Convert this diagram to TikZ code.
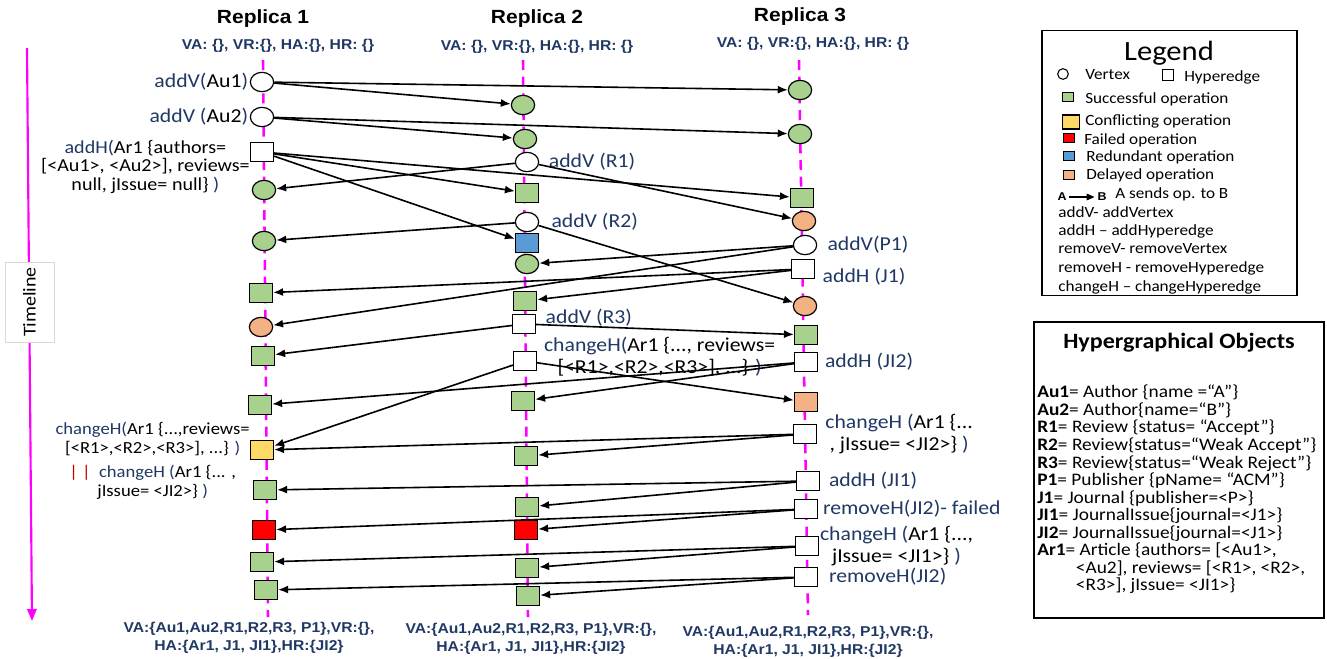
\documentclass[tikz,border=0pt]{standalone}
\usepackage{fontspec}
\setmainfont{Carlito}[FakeStretch=1.1]
\newfontfamily\headfont{Liberation Sans}[FakeStretch=1.1]
\usepackage{tikz}
\usetikzlibrary{shapes, arrows.meta, positioning}
\definecolor{okgreen}{HTML}{A9D18E}
\definecolor{conflictyellow}{HTML}{FFD966}
\definecolor{failred}{HTML}{FF0000}
\definecolor{redundantblue}{HTML}{5B9BD5}
\definecolor{delayorange}{HTML}{F4B183}
\definecolor{opblue}{HTML}{203864}
\definecolor{tlmagenta}{HTML}{FF00FF}
\definecolor{barred}{HTML}{C00000}
\tikzstyle{vtx} = [draw, fill=white, ellipse, line width=0.9pt, minimum width=17.5pt, minimum height=14.5pt, inner sep=0pt]
\tikzstyle{hedge} = [draw, fill=white, rectangle, line width=0.9pt, minimum width=17.25pt, minimum height=14.5pt, inner sep=0pt]
\tikzstyle{optext} = [text=opblue, inner sep=0pt, font=\fontsize{14.8}{16.5}\selectfont]
\tikzstyle{replicastate} = [text=opblue, inner sep=0pt, align=center, font=\headfont\bfseries\fontsize{10.7}{13.5}\selectfont]
\tikzstyle{replicatitle} = [inner sep=0pt, font=\headfont\bfseries\fontsize{14.3}{16}\selectfont]
\tikzstyle{replica} = [draw=tlmagenta, line width=1.9pt, dash pattern=on 7.5pt off 5pt]
\tikzstyle{sendop} = [->, line width=1.2pt]
\tikzstyle{legtext} = [anchor=west, inner sep=0pt, font=\fontsize{11.7}{13}\selectfont]
\tikzstyle{legkey} = [draw, line width=0.9pt, minimum width=8.5pt, minimum height=6.5pt, inner sep=0pt]
\newcommand{\objtext}[1]{\textcolor{black}{#1}}

\begin{document}
\begin{tikzpicture}[x=0.75pt, y=-0.75pt, >={Latex[length=7.5pt, width=6pt]}]
    \useasboundingbox (0,0) rectangle (1327,658);

    % timeline
    \coordinate (tltop) at (27,48);
    \coordinate (tlend) at (32,621);
    \draw [->, draw=tlmagenta, line width=1.6pt, >={Triangle[length=9pt, width=7pt]}] (tltop) -- (tlend);
    \node [draw=gray!30, fill=white, rotate=90, minimum width=60pt, minimum height=36.75pt, font=\fontsize{13.6}{15}\selectfont] (tlbox) at (29.5,302) {Timeline};

    % replica lines
    \coordinate (r1top) at (263,60);
    \coordinate (r1bot) at (268,617);
    \coordinate (r2top) at (523,60);
    \coordinate (r2bot) at (528,617);
    \coordinate (r3top) at (799,60);
    \coordinate (r3bot) at (808,615);
    \draw [replica] (r1top) -- (r1bot);
    \draw [replica] (r2top) -- (r2bot);
    \draw [replica] (r3top) -- (r3bot);

    \node [replicatitle] (rep1) at (263,19) {Replica 1};
    \node [replicatitle] (rep2) at (537,19) {Replica 2};
    \node [replicatitle] (rep3) at (800,17) {Replica 3};
    \node [replicastate] (start1) at (278,46) {VA: \{\}, VR:\{\}, HA:\{\}, HR: \{\}};
    \node [replicastate] (start2) at (537,47) {VA: \{\}, VR:\{\}, HA:\{\}, HR: \{\}};
    \node [replicastate] (start3) at (813,44) {VA: \{\}, VR:\{\}, HA:\{\}, HR: \{\}};
    \node [replicastate] (end1) at (249,638) {VA:\{Au1,Au2,R1,R2,R3, P1\},VR:\{\},\\HA:\{Ar1, J1, JI1\},HR:\{JI2\}};
    \node [replicastate] (end2) at (531,639) {VA:\{Au1,Au2,R1,R2,R3, P1\},VR:\{\},\\HA:\{Ar1, J1, JI1\},HR:\{JI2\}};
    \node [replicastate] (end3) at (808,642) {VA:\{Au1,Au2,R1,R2,R3, P1\},VR:\{\},\\HA:\{Ar1, J1, JI1\},HR:\{JI2\}};

    % replica 1
    \node [vtx] (a1) at (262,82) {};
    \node [vtx] (a2) at (262,117) {};
    \node [hedge] (a3) at (262,152) {};
    \node [vtx, fill=okgreen] (a4) at (264,190) {};
    \node [vtx, fill=okgreen] (a5) at (264,241) {};
    \node [hedge, fill=okgreen] (a6) at (261,293) {};
    \node [vtx, fill=delayorange] (a7) at (261,327) {};
    \node [hedge, fill=okgreen] (a8) at (263,356) {};
    \node [hedge, fill=okgreen] (a9) at (260,405) {};
    \node [hedge, fill=conflictyellow] (a10) at (262,450) {};
    \node [hedge, fill=okgreen] (a11) at (265,490) {};
    \node [hedge, fill=failred] (a12) at (264,530) {};
    \node [hedge, fill=okgreen] (a13) at (262,562) {};
    \node [hedge, fill=okgreen] (a14) at (266,590) {};

    % replica 2
    \node [vtx, fill=okgreen] (b1) at (523,105) {};
    \node [vtx, fill=okgreen] (b2) at (525,139) {};
    \node [vtx] (b3) at (527,162) {};
    \node [hedge, fill=okgreen] (b4) at (527,193) {};
    \node [vtx] (b5) at (527,222) {};
    \node [hedge, fill=redundantblue] (b6) at (527,243) {};
    \node [vtx, fill=okgreen] (b7) at (527,264) {};
    \node [hedge, fill=okgreen] (b8) at (525,301) {};
    \node [hedge] (b9) at (524,324) {};
    \node [hedge] (b10) at (525,361) {};
    \node [hedge, fill=okgreen] (b11) at (523,401) {};
    \node [hedge, fill=okgreen] (b12) at (526,456) {};
    \node [hedge, fill=okgreen] (b13) at (527,507) {};
    \node [hedge, fill=failred] (b14) at (526,530) {};
    \node [hedge, fill=okgreen] (b15) at (527,568) {};
    \node [hedge, fill=okgreen] (b16) at (528,596) {};

    % replica 3
    \node [vtx, fill=okgreen] (c1) at (800,90) {};
    \node [vtx, fill=okgreen] (c2) at (800,134) {};
    \node [hedge, fill=okgreen] (c3) at (802,198) {};
    \node [vtx, fill=delayorange] (c4) at (804,221) {};
    \node [vtx] (c5) at (805,245) {};
    \node [hedge] (c6) at (803,269) {};
    \node [vtx, fill=delayorange] (c7) at (805,306) {};
    \node [hedge, fill=okgreen] (c8) at (806,335) {};
    \node [hedge] (c9) at (806,362) {};
    \node [hedge, fill=delayorange] (c10) at (806,402) {};
    \node [hedge] (c11) at (805,434) {};
    \node [hedge] (c12) at (808,481) {};
    \node [hedge] (c13) at (806,509) {};
    \node [hedge] (c14) at (807,546) {};
    \node [hedge] (c15) at (806,577) {};

    % operation labels
    \node [optext, left=1pt of a1] (a1lbl) {addV(\objtext{Au1})};
    \node [optext, left=1pt of a2] (a2lbl) {addV (\objtext{Au2})};
    \node [optext, align=center, left=0pt of a3, yshift=-11pt, font=\fontsize{13.7}{13.9}\selectfont] (a3lbl) {addH(\objtext{Ar1 \{authors=}\\\objtext{[<Au1>, <Au2>], reviews=}\\\objtext{null, jIssue= null\}} )};
    \node [optext, align=center, left=0pt of a10, yshift=-8pt, font=\fontsize{12.7}{14.3}\selectfont] (a10lbl) {changeH(\objtext{Ar1 \{...,reviews=}\\\objtext{[<R1>,<R2>,<R3>], ...\}} )\\[4pt]\textcolor{barred}{| |}\ \ changeH (\objtext{Ar1 \{... ,}\\\objtext{jIssue= <JI2>\}} )};
    \node [optext, right=7pt of b3] (b3lbl) {addV (R1)};
    \node [optext, right=9pt of b5] (b5lbl) {addV (R2)};
    \node [optext, right=7pt of b9, yshift=5pt] (b9lbl) {addV (R3)};
    \node [optext, align=center, right=5pt of b10, yshift=3pt] (b10lbl) {changeH(\objtext{Ar1 \{..., reviews=}\\\objtext{[<R1>,<R2>,<R3>], ...\}} )};
    \node [optext, right=7.5pt of c5] (c5lbl) {addV(P1)};
    \node [optext, right=5.5pt of c6, yshift=-6pt] (c6lbl) {addH (J1)};
    \node [optext, right=5pt of c9] (c9lbl) {addH (JI2)};
    \node [optext, align=center, right=6pt of c11] (c11lbl) {changeH (\objtext{Ar1 \{...}\\\objtext{, jIssue= <JI2>\}} )};
    \node [optext, right=6.5pt of c12] (c12lbl) {addH (JI1)};
    \node [optext, right=3.5pt of c13] (c13lbl) {removeH(JI2)- failed};
    \node [optext, align=center, right=0.5pt of c14] (c14lbl) {changeH (\objtext{Ar1 \{...,}\\\objtext{jIssue= <JI1>\}} )};
    \node [optext, right=8pt of c15] (c15lbl) {removeH(JI2)};

    % sent operations
    \draw [sendop] (a1) -- (b1);
    \draw [sendop] (a1) -- (c1);
    \draw [sendop] (a2) -- (b2);
    \draw [sendop] (a2) -- (c2);
    \draw [sendop] (a3) -- (b4);
    \draw [sendop] (a3) -- (c3);
    \draw [sendop] (a3) -- (b6);
    \draw [sendop] (b3) -- (a4);
    \draw [sendop] (b3) -- (c4);
    \draw [sendop] (b5) -- (a5);
    \draw [sendop] (b5) -- (c7);
    \draw [sendop] (c5) -- (b7);
    \draw [sendop] (c5) -- (a7);
    \draw [sendop] (c6) -- (a6);
    \draw [sendop] (c6) -- (b8);
    \draw [sendop] (b9) -- (a8);
    \draw [sendop] (b9) -- (c8);
    \draw [sendop] (b10) -- (a10);
    \draw [sendop] (b10) -- (c10);
    \draw [sendop] (c9) -- (a9);
    \draw [sendop] (c9) -- (b11);
    \draw [sendop] (c11) -- (a10);
    \draw [sendop] (c11) -- (b12);
    \draw [sendop] (c12) -- (a11);
    \draw [sendop] (c12) -- (b13);
    \draw [sendop] (c13) -- (a12);
    \draw [sendop] (c13) -- (b14);
    \draw [sendop] (c14) -- (a13);
    \draw [sendop] (c14) -- (b15);
    \draw [sendop] (c15) -- (a14);
    \draw [sendop] (c15) -- (b16);

    % legend
    \node [draw, line width=1.1pt, minimum width=191.25pt, minimum height=198.75pt] (legend) at (1169.5,163) {};
    \node [font=\fontsize{20.9}{22}\selectfont, inner sep=0pt] (legtitle) at (1169,53) {Legend};
    \node [draw, circle, line width=0.8pt, minimum size=8pt, inner sep=0pt] (legv) at (1063,74) {};
    \node [legtext] (legvtxt) at (1085,75) {Vertex};
    \node [draw, line width=0.8pt, minimum size=8pt, inner sep=0pt] (legh) at (1168,75) {};
    \node [legtext] (leghtxt) at (1184,77) {Hyperedge};
    \node [legkey, fill=okgreen] (legok) at (1068,97) {};
    \node [legtext] (legoktxt) at (1085,99) {Successful operation};
    \node [legkey, fill=conflictyellow, minimum width=12.5pt, minimum height=10.5pt] (legconf) at (1071,122) {};
    \node [legtext] (legconftxt) at (1085,121) {Conflicting operation};
    \node [legkey, fill=failred] (legfail) at (1069,138) {};
    \node [legtext] (legfailtxt) at (1084,140) {Failed operation};
    \node [legkey, fill=redundantblue] (legred) at (1069,156) {};
    \node [legtext] (legredtxt) at (1086,157) {Redundant operation};
    \node [legkey, fill=delayorange] (legdel) at (1069,175) {};
    \node [legtext] (legdeltxt) at (1086,175) {Delayed operation};
    \node [font=\headfont\bfseries\fontsize{8.5}{9}\selectfont, inner sep=2pt] (legA) at (1062,197) {A};
    \node [font=\headfont\bfseries\fontsize{8.5}{9}\selectfont, inner sep=2pt] (legB) at (1102,197) {B};
    \draw [->, line width=0.9pt, >={Triangle[length=6pt, width=5pt]}] (legA) -- (legB);
    \node [legtext] (legsend) at (1115,194) {A sends op. to B};
    \node [legtext] (legaddv) at (1058,212) {addV- addVertex};
    \node [legtext] (legaddh) at (1058,231) {addH -- addHyperedge};
    \node [legtext] (legremv) at (1058,249) {removeV- removeVertex};
    \node [legtext] (legremh) at (1058,268) {removeH - removeHyperedge};
    \node [legtext] (legchh) at (1058,287) {changeH -- changeHyperedge};

    % hypergraphical objects
    \node [draw, line width=1.1pt, minimum width=217.5pt, minimum height=222pt] (objects) at (1179,470) {};
    \node [font=\bfseries\fontsize{16.4}{18}\selectfont, inner sep=0pt] (objtitle) at (1179,343) {Hypergraphical Objects};
    \node [anchor=west, align=left, inner sep=0pt, font=\fontsize{13.2}{13.16}\selectfont] (objlist) at (1037,489.5) {%
        \textbf{Au1}= Author \{name =“A”\}\\
        \textbf{Au2}= Author\{name=“B”\}\\
        \textbf{R1}= Review \{status= “Accept”\}\\
        \textbf{R2}= Review\{status=“Weak Accept”\}\\
        \textbf{R3}= Review\{status=“Weak Reject”\}\\
        \textbf{P1}= Publisher \{pName= “ACM”\}\\
        \textbf{J1}= Journal \{publisher=<P>\}\\
        \textbf{JI1}= JournalIssue\{journal=<J1>\}\\
        \textbf{JI2}= JournalIssue\{journal=<J1>\}\\
        \textbf{Ar1}= Article \{authors= [<Au1>,\\
        \hspace*{29pt}<Au2], reviews= [<R1>, <R2>,\\
        \hspace*{29pt}<R3>], jIssue= <JI1>\}};
\end{tikzpicture}
\end{document}
